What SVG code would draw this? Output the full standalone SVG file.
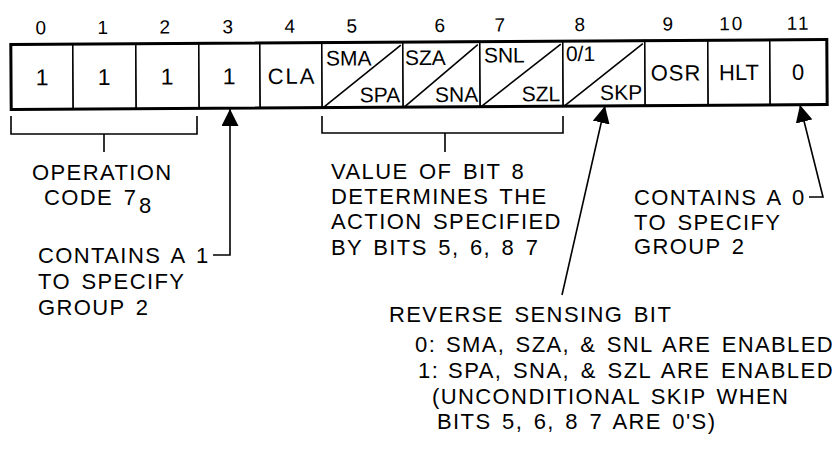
<svg xmlns="http://www.w3.org/2000/svg" width="835" height="462" viewBox="0 0 835 462">
<style>
text{font-family:"Liberation Sans",Arial,sans-serif;fill:#000}
.n{font-size:19px;text-anchor:middle;letter-spacing:2px}
.c{font-size:23px;text-anchor:middle}
.d{font-size:21px}
.e{text-anchor:end}
.t{font-size:22px;letter-spacing:1.4px;word-spacing:3px}
.cell{fill:#fff;stroke:#000;stroke-width:1.5}
.ln{fill:none;stroke:#000;stroke-width:1.6}
.ar{fill:none;stroke:#000;stroke-width:1.6;marker-start:url(#ah)}
</style>
<defs>
<marker id="ah" viewBox="0 0 10 10" refX="10" refY="5" markerUnits="userSpaceOnUse" markerWidth="17" markerHeight="17" preserveAspectRatio="none" orient="auto-start-reverse"><path d="M0,0 L10,5 L0,10 z" fill="#000"/></marker>
</defs>
<rect width="835" height="462" fill="#fff"/>
<g id="register" transform="rotate(-0.35 419 75)">
<g id="bit-numbers">
<text class="n" x="42" y="32">0</text>
<text class="n" x="104" y="32">1</text>
<text class="n" x="166" y="32">2</text>
<text class="n" x="229" y="32">3</text>
<text class="n" x="291" y="32">4</text>
<text class="n" x="353" y="32">5</text>
<text class="n" x="441" y="32">6</text>
<text class="n" x="501" y="32">7</text>
<text class="n" x="581" y="32">8</text>
<text class="n" x="669" y="32">9</text>
<text class="n" x="732" y="32">10</text>
<text class="n" x="799" y="32">11</text>
</g>
<g id="cell-0"><rect class="cell" x="11" y="42" width="62" height="65"/><text class="c" x="42" y="83">1</text></g>
<g id="cell-1"><rect class="cell" x="73" y="42" width="63" height="65"/><text class="c" x="104" y="83">1</text></g>
<g id="cell-2"><rect class="cell" x="136" y="42" width="63" height="65"/><text class="c" x="167" y="83">1</text></g>
<g id="cell-3"><rect class="cell" x="199" y="42" width="61" height="65"/><text class="c" x="229" y="83">1</text></g>
<g id="cell-4"><rect class="cell" x="260" y="42" width="62" height="65"/><text class="c" x="292" y="83" style="font-size:22px;letter-spacing:2px">CLA</text></g>
<g id="cell-5"><rect class="cell" x="322" y="42" width="81" height="65"/><line class="ln" x1="323" y1="107" x2="401" y2="45"/><text class="d" x="326" y="65">SMA</text><text class="d e" x="400" y="102">SPA</text></g>
<g id="cell-6"><rect class="cell" x="403" y="42" width="77" height="65"/><line class="ln" x1="404" y1="107" x2="478" y2="45"/><text class="d" x="405" y="65">SZA</text><text class="d e" x="478" y="102">SNA</text></g>
<g id="cell-7"><rect class="cell" x="480" y="42" width="83" height="65"/><line class="ln" x1="481" y1="107" x2="561" y2="45"/><text class="d" x="484" y="63">SNL</text><text class="d e" x="560" y="102">SZL</text></g>
<g id="cell-8"><rect class="cell" x="563" y="42" width="82" height="65"/><line class="ln" x1="564" y1="107" x2="643" y2="45"/><text class="d" x="566" y="62">0/1</text><text class="d e" x="642" y="101">SKP</text></g>
<g id="cell-9"><rect class="cell" x="645" y="42" width="63" height="65"/><text class="c" x="676" y="82" style="font-size:22px;letter-spacing:1px">OSR</text></g>
<g id="cell-10"><rect class="cell" x="708" y="42" width="62" height="65"/><text class="c" x="739" y="82" style="font-size:22px">HLT</text></g>
<g id="cell-11"><rect class="cell" x="770" y="42" width="57" height="65"/><text class="c" x="798" y="82" style="font-size:22px">0</text></g>
<rect x="11" y="42" width="816" height="65" fill="none" stroke="#000" stroke-width="3"/>
</g>
<g id="connectors">
<path class="ln" d="M11,116 V134 H197 V116 M104,134 V152"/>
<path class="ln" d="M322,116 V133 H563 V116 M445,133 V152"/>
<path class="ar" d="M230,109 V255 H213"/>
<path class="ar" d="M605,106 L562,295"/>
<path class="ar" d="M800,105 L823,197 H809"/>
</g>
<g id="operation-code">
<text class="t" x="32" y="180">OPERATION</text>
<text class="t" x="44" y="205">CODE 7</text>
<text class="t" x="139" y="213">8</text>
</g>
<g id="bit3-note">
<text class="t" x="38" y="263">CONTAINS A 1</text>
<text class="t" x="38" y="289">TO SPECIFY</text>
<text class="t" x="38" y="315">GROUP 2</text>
</g>
<g id="bit8-note">
<text class="t" x="331" y="179">VALUE OF BIT 8</text>
<text class="t" x="331" y="204">DETERMINES THE</text>
<text class="t" x="331" y="229">ACTION SPECIFIED</text>
<text class="t" x="331" y="255">BY BITS 5, 6, 8 7</text>
</g>
<g id="bit11-note">
<text class="t" x="634" y="205">CONTAINS A 0</text>
<text class="t" x="634" y="230">TO SPECIFY</text>
<text class="t" x="634" y="254">GROUP 2</text>
</g>
<g id="reverse-sensing-note">
<text class="t" x="389" y="322">REVERSE SENSING BIT</text>
<text class="t" x="415" y="352">0:<tspan x="446" textLength="388" lengthAdjust="spacing">SMA, SZA, &amp; SNL ARE  ENABLED</tspan></text>
<text class="t" x="418" y="378">1:<tspan x="448" textLength="386" lengthAdjust="spacing">SPA, SNA, &amp; SZL ARE  ENABLED</tspan></text>
<text class="t" x="432" y="404">(UNCONDITIONAL SKIP WHEN</text>
<text class="t" x="437" y="429">BITS 5, 6, 8 7 ARE 0'S)</text>
</g>
</svg>
